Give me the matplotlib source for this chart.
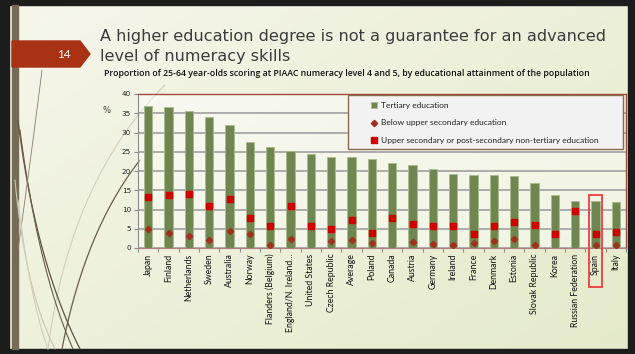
import numpy as np
import matplotlib
matplotlib.use('Agg')
import matplotlib.pyplot as plt
from matplotlib.patches import Rectangle, Polygon


# ==============================
# Data
# ==============================

countries = ['Japan', 'Finland', 'Netherlands', 'Sweden', 'Australia', 'Norway',
             'Flanders (Belgium)', 'England/N. Ireland...', 'United States',
             'Czech Republic', 'Average', 'Poland', 'Canada', 'Austria', 'Germany',
             'Ireland', 'France', 'Denmark', 'Estonia', 'Slovak Republic', 'Korea',
             'Russian Federation', 'Spain', 'Italy']

tertiary = [37.0, 36.5, 35.5, 34.0, 31.9, 27.6, 26.3, 25.1, 24.3, 23.6, 23.6, 23.1,
            22.1, 21.5, 20.4, 19.1, 19.0, 19.0, 18.6, 16.8, 13.7, 12.2, 12.1, 11.9]

upper_secondary = [13.2, 13.7, 14.1, 10.8, 12.8, 7.9, 5.8, 11.0, 5.7, 5.0, 7.4, 3.9,
                   7.7, 6.3, 5.8, 5.6, 3.6, 5.6, 6.7, 6.1, 3.7, 9.6, 3.7, 4.1]

# nan where no value is reported
below_upper = [4.9, 3.9, 3.0, 2.2, 4.3, 3.7, 0.9, 2.3, np.nan, 1.7, 2.0, 1.2,
               np.nan, 1.5, 1.0, 0.9, 1.2, 1.9, 2.3, 0.9, np.nan, np.nan, 0.7, 0.7]

highlight = 'Spain'


def fit_width(txt, target_px):
    # scale a text's font size so it spans target_px pixels
    fig.canvas.draw()
    w = txt.get_window_extent().width
    txt.set_fontsize(txt.get_fontsize() * target_px / w)


# ==============================
# Slide background
# ==============================

fig = plt.figure(figsize=(6.35, 3.54), dpi=100)

bg = fig.add_axes([0, 0, 1, 1])
bg.set_xlim(0, 635)
bg.set_ylim(354, 0)
bg.axis('off')

gx = np.linspace(0, 1, 200)
gy = np.linspace(0, 1, 120)
GX, GY = np.meshgrid(gx, gy)
t = np.clip(0.55 * GX + 0.45 * GY, 0, 1)
c0 = np.array([0.965, 0.965, 0.925])
c1 = np.array([0.895, 0.920, 0.790])
grad = c0[None, None, :] * (1 - t[..., None]) + c1[None, None, :] * t[..., None]
bg.imshow(grad, extent=[0, 635, 354, 0], aspect='auto', zorder=0)

# frame and left stripe
bg.add_patch(Rectangle((0, 0), 635, 5, color='#1c1c1c', zorder=1))
bg.add_patch(Rectangle((0, 349), 635, 5, color='#1c1c1c', zorder=1))
bg.add_patch(Rectangle((0, 0), 9, 354, color='#1c1c1c', zorder=1))
bg.add_patch(Rectangle((628, 0), 7, 354, color='#1c1c1c', zorder=1))
bg.add_patch(Rectangle((12, 5), 6, 344, color='#766b54', zorder=2))

# decorative swooshes on the left (quadratic bezier curves)
s = np.linspace(0, 1, 100)
swooshes = [
    ((140, 160), (85, 230), (62, 349), '#6b5d48', 0.9),
    ((165, 85), (70, 180), (48, 349), '#d2cfbb', 0.8),
    ((18, 120), (35, 260), (80, 349), '#5e5240', 0.9),
    ((20, 130), (38, 270), (73, 349), '#6b5d48', 0.8),
    ((42, 70), (32, 150), (18, 250), '#8a7d66', 0.6),
    ((15, 180), (25, 290), (55, 349), '#c8c6b4', 0.8),
    ((18, 200), (30, 300), (48, 349), '#d2cfbb', 0.8),
]
for p0, p1, p2, col, lw in swooshes:
    xs = (1 - s) ** 2 * p0[0] + 2 * (1 - s) * s * p1[0] + s ** 2 * p2[0]
    ys = (1 - s) ** 2 * p0[1] + 2 * (1 - s) * s * p1[1] + s ** 2 * p2[1]
    bg.plot(xs, ys, color=col, lw=lw, zorder=2, solid_capstyle='round')

# slide number tag
bg.add_patch(Polygon([(12, 41), (80, 41), (90, 54), (80, 67), (12, 67)],
                     closed=True, color='#a93214', zorder=3))
bg.text(64, 54, '14', color='white', fontsize=8.5, ha='center', va='center',
        family='Lato', zorder=4)

# titles
title1 = bg.text(100, 36, 'A higher education degree is not a guarantee for an advanced',
                 fontsize=11.0, color='#3c3c3c', family='DejaVu Sans',
                 va='center', ha='left')
title2 = bg.text(100, 57, 'level of numeracy skills',
                 fontsize=11.0, color='#3c3c3c', family='DejaVu Sans',
                 va='center', ha='left')
subtitle = bg.text(104, 73, 'Proportion of 25-64 year-olds scoring at PIAAC numeracy level 4 and 5, '
                   'by educational attainment of the population',
                   fontsize=6.4, color='#111111', family='Open Sans', weight='semibold',
                   va='center', ha='left')
fit_width(title1, 506)
title2.set_fontsize(title1.get_fontsize())
fit_width(subtitle, 489)

# ==============================
# Chart
# ==============================

ax = fig.add_axes([138 / 635, 1 - 248 / 354, 488 / 635, 154 / 354])
ax.set_facecolor((1, 1, 1, 0.45))

x = np.arange(len(countries))
bars = ax.bar(x, tertiary, width=0.4, color='#6f8650', edgecolor='#a9bb8c',
              linewidth=0.6, zorder=3, label='Tertiary education')
below_line, = ax.plot(x, below_upper, linestyle='none', marker='D', markersize=3.2,
                      color='#a3301f', zorder=4, label='Below upper secondary education')
upper_line, = ax.plot(x, upper_secondary, linestyle='none', marker='s', markersize=4.0,
                      color='#d00000', zorder=5,
                      label='Upper secondary or post-secondary non-tertiary education')

ax.set_xlim(-0.5, len(countries) - 0.5)
ax.set_ylim(0, 40)
ax.set_yticks(np.arange(0, 41, 5))
ax.yaxis.grid(True, color='#a6a6a6', linewidth=1.3, zorder=0)
ax.set_axisbelow(True)

ax.set_xticks(x)
ax.set_xticklabels(countries, rotation=90, fontsize=6.3, family='Lato', color='#111111')
ax.set_xticks(np.arange(-0.5, len(countries), 1), minor=True)
ax.tick_params(axis='x', which='major', length=0, pad=4)
ax.tick_params(axis='x', which='minor', length=3, color='#8c8c8c', width=0.8)
ax.tick_params(axis='y', length=3, color='#8c8c8c', width=0.8, labelsize=5.2,
               labelcolor='#222222', pad=2)

for side in ['top', 'right']:
    ax.spines[side].set_color('#a04a3a')
    ax.spines[side].set_linewidth(1.0)
ax.spines['left'].set_color('#8c8c8c')
ax.spines['bottom'].set_color('#b08080')

ax.text(-0.064, 0.896, '%', transform=ax.transAxes, fontsize=6, color='#333333',
        ha='center', va='center')

# highlighted country
hi = countries.index(highlight)
ax.add_patch(Rectangle((hi - 0.34, -0.253), 0.68, 0.597, transform=ax.get_xaxis_transform(),
                       fill=False, edgecolor='#f03c3c', linewidth=1.3, clip_on=False, zorder=6))

# legend: own frame, entries indented inside it
ax.add_patch(Rectangle((0.43, 0.643), 0.564, 0.351, transform=ax.transAxes,
                       facecolor='#f2f2f2', edgecolor='#8a6a4a', linewidth=1.0, zorder=7))
leg = ax.legend(handles=[bars, below_line, upper_line], loc='upper left',
                bbox_to_anchor=(0.47, 0.972), fontsize=6.0, frameon=False,
                labelspacing=1.3, handlelength=0.8, handletextpad=0.4,
                borderpad=0.4, borderaxespad=0.0)
for txt in leg.get_texts():
    txt.set_family('Lato')
    txt.set_color('#222222')
leg.set_zorder(8)

fig.savefig('out.png', dpi=100)
